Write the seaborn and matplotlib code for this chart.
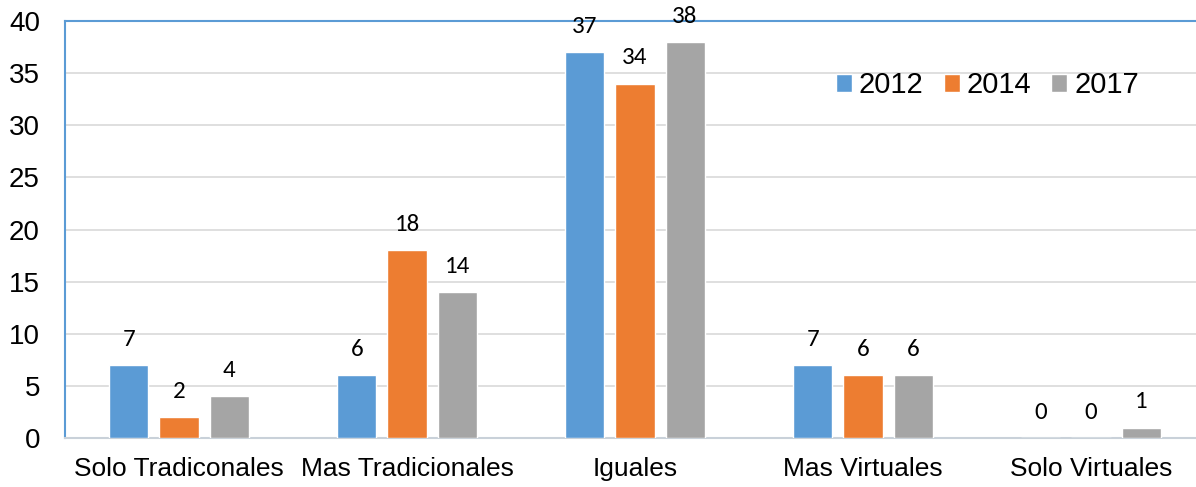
import matplotlib
matplotlib.use("Agg")
import matplotlib.pyplot as plt
import pandas as pd
import seaborn as sns

categorias = ["Solo Tradiconales", "Mas Tradicionales", "Iguales", "Mas Virtuales", "Solo Virtuales"]
anios = ["2012", "2014", "2017"]
v2012 = [7, 6, 37, 7, 0]
v2014 = [2, 18, 34, 6, 0]
v2017 = [4, 14, 38, 6, 1]
colores = ["#5B9BD5", "#ED7D31", "#A5A5A5"]

df = pd.DataFrame({
    "categoria": categorias * 3,
    "anio": [a for a in anios for _ in categorias],
    "valor": v2012 + v2014 + v2017,
})

sns.set_style("white")
plt.rcParams["font.family"] = ["Liberation Sans", "DejaVu Sans"]
plt.rcParams["text.color"] = "black"
plt.rcParams["xtick.color"] = "black"
plt.rcParams["ytick.color"] = "black"

fig = plt.figure(figsize=(11.96, 4.87), dpi=100)
# the plot area runs a little past the right edge of the picture
ax = fig.add_axes([65 / 1196, 49 / 487, 1140 / 1196, 417 / 487])

sns.barplot(data=df, x="categoria", y="valor", hue="anio", palette=colores,
            width=0.658, gap=0.22, saturation=1, ax=ax, zorder=3)

for cont in ax.containers:
    ax.bar_label(cont, fmt="%d", padding=11, fontsize=18, color="black",
                 family=["Carlito", "Open Sans", "DejaVu Sans"])

ax.set_ylim(0, 40)
ax.set_xlim(-0.5, 4.5)
ax.set_yticks(range(0, 41, 5))
ax.yaxis.grid(True, color="#D9D9D9", linewidth=1.2, zorder=0)
ax.set_axisbelow(True)
ax.set_xlabel("")
ax.set_ylabel("")
ax.tick_params(axis="y", labelsize=20, length=0, pad=18, labelcolor="black")
ax.tick_params(axis="x", labelsize=19, length=0, pad=14, labelcolor="black")

for s in ["left", "top"]:
    ax.spines[s].set_color("#5B9BD5")
    ax.spines[s].set_linewidth(1.5)
ax.spines["bottom"].set_color("#C9D1D9")
ax.spines["bottom"].set_linewidth(1.5)
ax.spines["right"].set_visible(False)

ax.legend(loc="center left", bbox_to_anchor=(0.676, 0.846), ncol=3, frameon=False,
          fontsize=21, handlelength=0.55, handleheight=0.55, handletextpad=0.25,
          columnspacing=0.68, borderpad=0, borderaxespad=0, labelcolor="black")

fig.savefig("out.png", dpi=100)
